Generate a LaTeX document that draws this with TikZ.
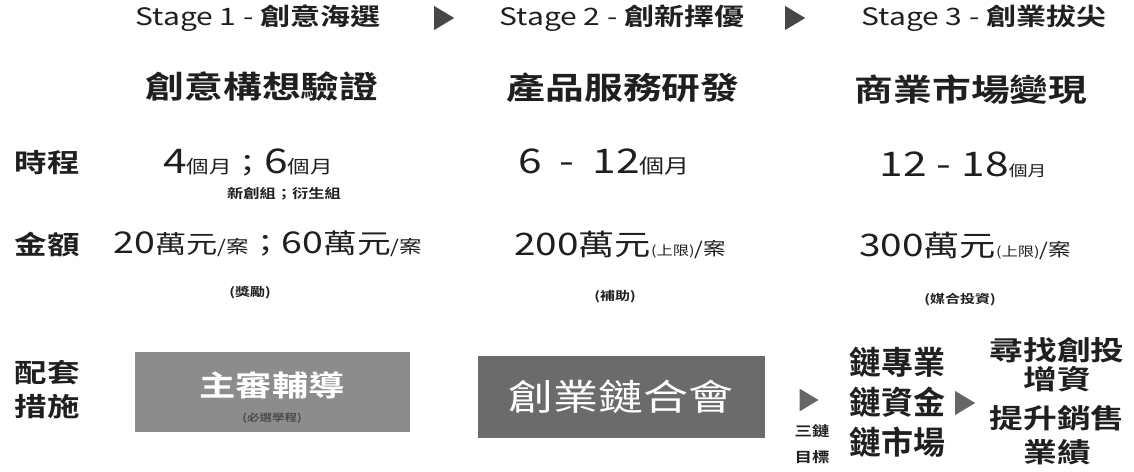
\documentclass[tikz,border=0pt]{standalone}
\usepackage{fontspec}
\setmainfont{Noto Sans CJK TC}[FakeStretch=1.25, BoldFont={Noto Sans CJK TC Bold}, BoldFeatures={FakeStretch=1.25}]
\newfontfamily\plainfont{Noto Sans CJK TC Bold}
\usetikzlibrary{shapes.geometric}
\usetikzlibrary{positioning}

\newcommand{\unitsz}{\fontsize{18}{20}\selectfont}
\newcommand{\wansz}{\fontsize{25}{28}\selectfont}
\newcommand{\tinysz}{\fontsize{13}{15}\selectfont}
\newcommand{\semi}{{\fontsize{26}{28}\selectfont ；}}

\tikzset{
  stagetxt/.style={font=\fontsize{24}{27}\selectfont},
  titletxt/.style={font=\bfseries\fontsize{31}{34}\selectfont},
  rowlabel/.style={font=\bfseries\fontsize{26}{34}\selectfont, align=center},
  bignum/.style={font=\fontsize{34}{36}\selectfont},
  amnum/.style={font=\fontsize{31}{33}\selectfont},
  notetxt/.style={font=\bfseries\fontsize{12}{14}\selectfont},
  graybox/.style={minimum width=275pt, minimum height=80pt, text=white, align=center},
  tri/.style={isosceles triangle, isosceles triangle apex angle=62, fill=black!72,
    minimum height=20pt, inner sep=0pt},
  chaintxt/.style={font=\plainfont\fontsize{32}{34}\selectfont},
  restxt/.style={font=\bfseries\fontsize{27}{30}\selectfont}
}

\begin{document}
\begin{tikzpicture}[x=1pt,y=-1pt,every node/.style={inner sep=0pt,text=black!88}]
\useasboundingbox (0,0) rectangle (1134,471);

% stage headings
\node[stagetxt](st1) at (258, 18) {Stage 1 - \textbf{創意海選}};
\node[tri](arr1) at (441, 18) {};
\node[stagetxt](st2) at (622, 18) {Stage 2 - \textbf{創新擇優}};
\node[tri](arr2) at (792, 18) {};
\node[stagetxt](st3) at (984, 18) {Stage 3 - \textbf{創業拔尖}};

\node[titletxt](ti1) at (262, 87) {創意構想驗證};
\node[titletxt](ti2) at (623, 88) {產品服務研發};
\node[titletxt](ti3) at (971, 90) {商業市場變現};

% schedule
\node[rowlabel](lab1) at (47, 163) {時程};
\node[bignum](tm1) at (248, 162) {4{\unitsz 個月}\semi 6{\unitsz 個月}};
\node[notetxt, font=\bfseries\fontsize{13}{15}\selectfont](tm1n) at (284, 194) {新創組；衍生組};
\node[bignum](tm2) at (604, 162) {6\hspace{18pt}-\hspace{18pt}12{\fontsize{20}{22}\selectfont 個月}};
\node[bignum](tm3) at (963, 165) {12\hspace{10pt}-\hspace{10pt}18{\fontsize{15}{17}\selectfont 個月}};

% amounts
\node[rowlabel](lab2) at (47, 245) {金額};
\node[amnum, font=\fontsize{30}{32}\selectfont](am1) at (268, 244) {20{\wansz 萬元}{\unitsz /案}\semi 60{\fontsize{27}{30}\selectfont 萬元}{\unitsz /案}};
\node[notetxt](am1n) at (250, 293) {(獎勵)};
\node[amnum](am2) at (620, 245) {200{\fontsize{29}{31}\selectfont 萬元}{\tinysz (上限)}{\unitsz /案}};
\node[notetxt](am2n) at (615, 297) {(補助)};
\node[amnum](am3) at (965, 246) {300{\fontsize{29}{31}\selectfont 萬元}{\tinysz (上限)}{\unitsz /案}};
\node[notetxt](am3n) at (960, 300) {(媒合投資)};

% support measures
\node[rowlabel](lab3) at (47, 390) {配套\\措施};
\node[graybox, fill=black!45](box1) at (272, 392) {};
\node[text=white, font=\bfseries\fontsize{29}{31}\selectfont](box1t) at (272, 385) {主審輔導};
\node[text=black!70, font=\bfseries\fontsize{10}{11}\selectfont](box1n) at (272, 418) {(必選學程)};
\node[graybox, fill=black!58, minimum width=287pt, minimum height=82pt,
  font=\fontsize{36}{38}\selectfont](box2) at (621, 397) {創業鏈合會};

\node[tri, minimum height=19pt, fill=black!60](arr3) at (806, 400) {};
\node[font=\bfseries\fontsize{14}{26}\selectfont, align=center](goal) at (812, 444) {三鏈\\目標};

\node[chaintxt](ch1) at (897, 362) {鏈專業};
\node[chaintxt](ch2) at (897, 402) {鏈資金};
\node[chaintxt](ch3) at (897, 442) {鏈市場};

\node[tri, minimum height=20pt, fill=black!60](arr4) at (962, 403) {};
\node[restxt](rs1) at (1057, 350) {尋找創投};
\node[restxt](rs2) at (1057, 379) {增資};
\node[restxt](rs3) at (1057, 418) {提升銷售};
\node[restxt](rs4) at (1057, 452) {業績};
\end{tikzpicture}
\end{document}
